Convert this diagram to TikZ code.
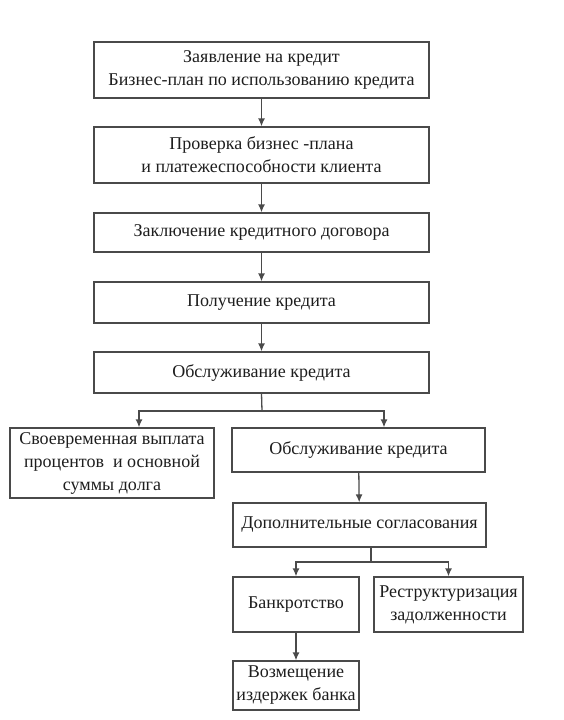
\documentclass[tikz,border=0pt]{standalone}
\usepackage{fontspec}
\setmainfont{Liberation Serif}
\usetikzlibrary{arrows.meta}
\definecolor{boxgray}{HTML}{4A4A4A}
\definecolor{textgray}{HTML}{1E1E1E}

\begin{document}
\begin{tikzpicture}[
        x=1pt, y=-1pt,
        every node/.style={draw=boxgray, line width=1.3pt, fill=white, inner sep=0pt, align=center, text=textgray, font=\fontsize{18}{23}\selectfont},
        wide/.style={minimum width=335pt},
        link/.style={draw=boxgray, line width=1.3pt, -{Latex[length=8pt,width=7pt]}},
        line/.style={draw=boxgray, line width=1.3pt}
    ]
 \useasboundingbox (0,0) rectangle (564,720);
 % main column
 \node[wide, minimum height=56pt] (zayav) at (261.5,70) {Заявление на кредит\\Бизнес-план по использованию кредита};
 \node[wide, minimum height=56pt] (prov) at (261.5,155) {Проверка бизнес -плана\\и платежеспособности клиента};
 \node[wide, minimum height=39pt] (zakl) at (261.5,232.5) {Заключение кредитного договора};
 \node[wide, minimum height=41pt] (poluch) at (261.5,302.5) {Получение кредита};
 \node[wide, minimum height=41pt] (obsl) at (261.5,372.5) {Обслуживание кредита};
 % branches
 \node[minimum width=204pt, minimum height=70pt] (svoevr) at (112,463) {Своевременная выплата\\процентов \ и основной\\суммы долга};
 \node[minimum width=253pt, minimum height=44pt] (obslb) at (358.5,450) {Обслуживание кредита};
 \node[minimum width=253pt, minimum height=44pt] (dop) at (359.5,525) {Дополнительные согласования};
 \node[minimum width=126pt, minimum height=55pt] (bankr) at (296,604.5) {Банкротство};
 \node[minimum width=149pt, minimum height=55pt] (restr) at (448.5,604.5) {Реструктуризация\\задолженности};
 \node[minimum width=126pt, minimum height=49pt] (vozm) at (296,685.5) {Возмещение\\издержек банка};
 \coordinate (forka) at (262,411);
 \coordinate (forkb) at (371,562);

 \draw[link] (zayav) -- (prov);
 \draw[link] (prov) -- (zakl);
 \draw[link] (zakl) -- (poluch);
 \draw[link] (poluch) -- (obsl);
 \draw[line] (obsl.south) -- (forka);
 \draw[link] (forka) -| ([xshift=27pt]svoevr.north);
 \draw[link] (forka) -| ([xshift=25.5pt]obslb.north);
 \draw[link] (obslb) -- (dop);
 \draw[line] ([xshift=11.5pt]dop.south) -- (forkb);
 \draw[link] (forkb) -| (bankr.north);
 \draw[link] (forkb) -| (restr.north);
 \draw[link] (bankr) -- (vozm);
\end{tikzpicture}
\end{document}
